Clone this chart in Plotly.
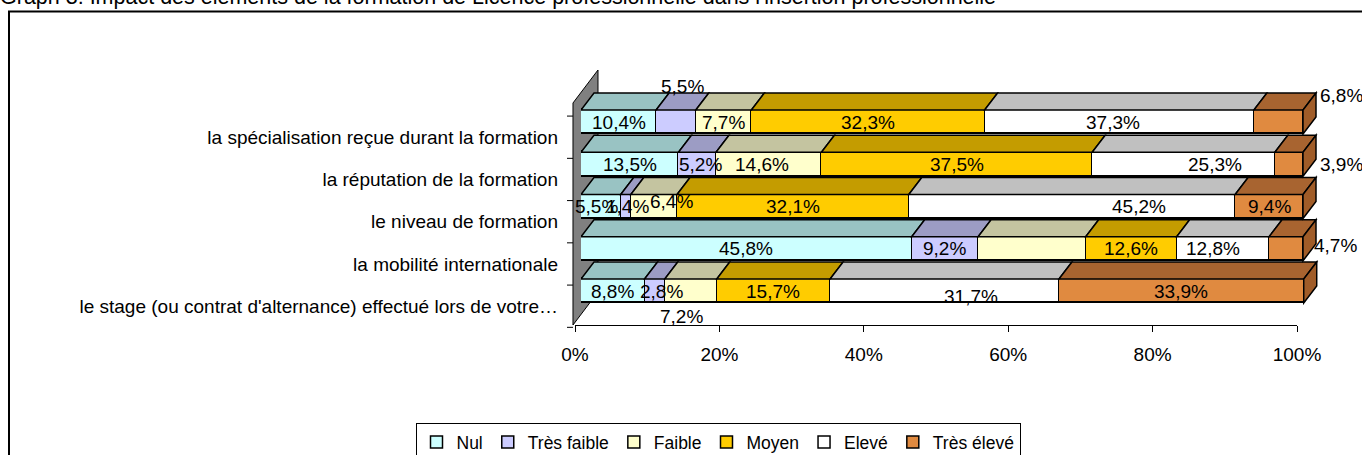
import plotly.graph_objects as go

# ---------------- data ----------------
categories = [
    "le stage (ou contrat d'alternance) effectué lors de votre…",
    "la mobilité internationale",
    "le niveau de formation",
    "la réputation de la formation",
    "la spécialisation reçue durant la formation",
]
series_names = ["Nul", "Très faible", "Faible", "Moyen", "Elevé", "Très élevé"]
nul = [8.8, 45.8, 5.5, 13.5, 10.4]
tres_faible = [2.8, 9.2, 1.4, 5.2, 5.5]
faible = [7.2, 14.9, 6.4, 14.6, 7.7]
moyen = [15.7, 12.6, 32.1, 37.5, 32.3]
eleve = [31.7, 12.8, 45.2, 25.3, 37.3]
tres_eleve = [33.9, 4.7, 9.4, 3.9, 6.8]
tick_values = [0, 20, 40, 60, 80, 100]
tick_labels = ["0%", "20%", "40%", "60%", "80%", "100%"]
title_text = "Graph 3: Impact des éléments de la formation de Licence professionnelle dans l'insertion professionnelle"

series = [nul, tres_faible, faible, moyen, eleve, tres_eleve]

# ---------------- styles ----------------
W, H = 1362, 455
FONT = "Liberation Sans, Arial, sans-serif"
FS = 19
LEG_FS = 17.5
front_colors = ["#CCFFFF", "#CCCCFF", "#FFFFCC", "#FFCC00", "#FFFFFF", "#E08A40"]
top_colors = ["#99C3C3", "#9C9CC4", "#C4C4A0", "#C49C00", "#C0C0C0", "#A86430"]
side_color = "#A05C28"

# pixel geometry (reference picture coordinates)
X0_BAR = 581.0
PX_PER_UNIT = 7.22
X0_AX = 575.0
Y_BOTTOM_CENTER = 291.0
PX_PER_CAT = 42.25
BAR_W = 0.57
DX = 13 / PX_PER_UNIT
DY = 17 / PX_PER_CAT
X_MAX = 104.0
Y_MIN, Y_MAX = -0.5, 5.0

def px_x(p):
    return p / W

def px_y(p):
    return 1 - p / H

def ypix(d):
    return Y_BOTTOM_CENTER - d * PX_PER_CAT

offsets = {
    (1, 4): (7, 36), (4, 4): (-6, 0),
    (1, 3): (3, 0), (2, 3): (-7, 0), (4, 3): (31, 0),
    (0, 2): (-4, 0), (1, 2): (2, 0), (2, 2): (18, 5), (4, 2): (67, 0),
    (4, 1): (-10, 0),
    (1, 0): (7, 0), (2, 0): (-9, -25), (4, 0): (26, -5),
}
hidden = {(2, 1)}
outside_right = {(5, 4): (15, 27), (5, 3): (15, 0), (5, 1): (9, 3)}

fig = go.Figure()

ypos = list(range(len(categories)))
for s, (name, vals) in enumerate(zip(series_names, series)):
    fig.add_trace(go.Bar(
        name=name, x=vals, y=ypos, orientation="h", width=BAR_W,
        marker=dict(color=front_colors[s], line=dict(color="black", width=1.5)),
        hoverinfo="skip", xaxis="x", yaxis="y",
    ))

fig.add_trace(go.Scatter(x=[None], y=[None], xaxis="x2", yaxis="y", showlegend=False,
                         hoverinfo="skip"))

shapes = []
annotations = []

wall = [(573, 325), (573, 103), (598, 70), (598, 292)]
path = "M " + " L ".join(f"{px_x(a):.5f},{px_y(b):.5f}" for a, b in wall) + " Z"
shapes.append(dict(type="path", path=path, xref="paper", yref="paper",
                   fillcolor="#808080", line=dict(color="black", width=1), layer="below"))

for i in range(len(categories) + 1):
    b = ypix(i - 0.36 - 0.5)
    shapes.append(dict(type="line", xref="paper", yref="paper",
                       x0=px_x(567), x1=px_x(573), y0=px_y(b), y1=px_y(b),
                       line=dict(color="black", width=1)))

for i in range(len(categories)):
    cum = 0.0
    yt = i + BAR_W / 2
    yb = i - BAR_W / 2
    for s, vals in enumerate(series):
        v = vals[i]
        x0, x1 = cum, cum + v
        p = (f"M {x0},{yt} L {x1},{yt} L {x1 + DX},{yt + DY} L {x0 + DX},{yt + DY} Z")
        shapes.append(dict(type="path", path=p, xref="x", yref="y",
                           fillcolor=top_colors[s], line=dict(color="black", width=1.5)))
        txt = f"{v:.1f}".replace(".", ",") + "%"
        if (s, i) in outside_right:
            xs, ys = outside_right[(s, i)]
            total = sum(vv[i] for vv in series)
            annotations.append(dict(x=total, y=i, xref="x", yref="y", text=txt,
                                    showarrow=False, xanchor="left", xshift=xs, yshift=ys,
                                    font=dict(size=FS, color="black", family=FONT)))
        elif (s, i) not in hidden:
            xs, ys = offsets.get((s, i), (0, 0))
            annotations.append(dict(x=(x0 + x1) / 2, y=i, xref="x", yref="y", text=txt,
                                    showarrow=False, xanchor="center", xshift=xs, yshift=ys,
                                    font=dict(size=FS, color="black", family=FONT)))
        cum = x1
    p = (f"M {cum},{yb} L {cum},{yt} L {cum + DX},{yt + DY} L {cum + DX},{yb + DY} Z")
    shapes.append(dict(type="path", path=p, xref="x", yref="y",
                       fillcolor=side_color, line=dict(color="black", width=1.5)))

shapes.append(dict(type="rect", xref="paper", yref="paper",
                   x0=px_x(9), x1=1.02, y0=-0.05, y1=px_y(11.5),
                   line=dict(color="black", width=2), fillcolor="rgba(0,0,0,0)"))

annotations.append(dict(x=0, y=px_y(11), xref="paper", yref="paper", text=title_text,
                        showarrow=False, xanchor="left", yanchor="bottom", xshift=-2,
                        font=dict(size=21.5, color="black", family=FONT)))

bar_x_dom = [px_x(X0_BAR), px_x(X0_BAR + X_MAX * PX_PER_UNIT)]
y_dom = [px_y(ypix(Y_MIN)), px_y(ypix(Y_MAX))]

fig.update_layout(
    width=W, height=H, autosize=False,
    margin=dict(l=0, r=0, t=0, b=0, pad=0, autoexpand=False),
    paper_bgcolor="white", plot_bgcolor="rgba(0,0,0,0)",
    barmode="stack", bargap=0,
    font=dict(family=FONT, size=FS, color="black"),
    xaxis=dict(domain=bar_x_dom, range=[0, X_MAX], visible=False, anchor="y",
               fixedrange=True),
    xaxis2=dict(domain=[px_x(X0_AX), px_x(X0_AX + 100 * PX_PER_UNIT)], range=[0, 100],
                anchor="free", position=px_y(325), showline=True, linecolor="black",
                linewidth=1, ticks="outside", ticklen=6, tickcolor="black",
                tickvals=tick_values, ticktext=tick_labels, showgrid=False,
                zeroline=False, ticklabelstandoff=6, automargin=False,
                tickfont=dict(size=FS, family=FONT, color="black")),
    yaxis=dict(domain=y_dom, range=[Y_MIN, Y_MAX], anchor="x",
               tickvals=[i - 0.36 for i in ypos], ticktext=categories,
               ticks="", showgrid=False, zeroline=False, showline=False,
               ticklabelstandoff=22, automargin=False,
               tickfont=dict(size=FS, family=FONT, color="black")),
    legend=dict(orientation="h", x=px_x(718), y=px_y(423), xanchor="center", yanchor="top",
                bordercolor="black", borderwidth=1, bgcolor="white", itemwidth=30,
                font=dict(size=LEG_FS, family=FONT, color="black"), traceorder="normal"),
    shapes=shapes,
    annotations=annotations,
    showlegend=True,
)

post = ("document.documentElement.style.margin='0';document.body.style.margin='0';"
        "document.documentElement.style.overflow='hidden';document.body.style.overflow='hidden';")
fig.write_html("out.html", post_script=post, config={"displayModeBar": False})
